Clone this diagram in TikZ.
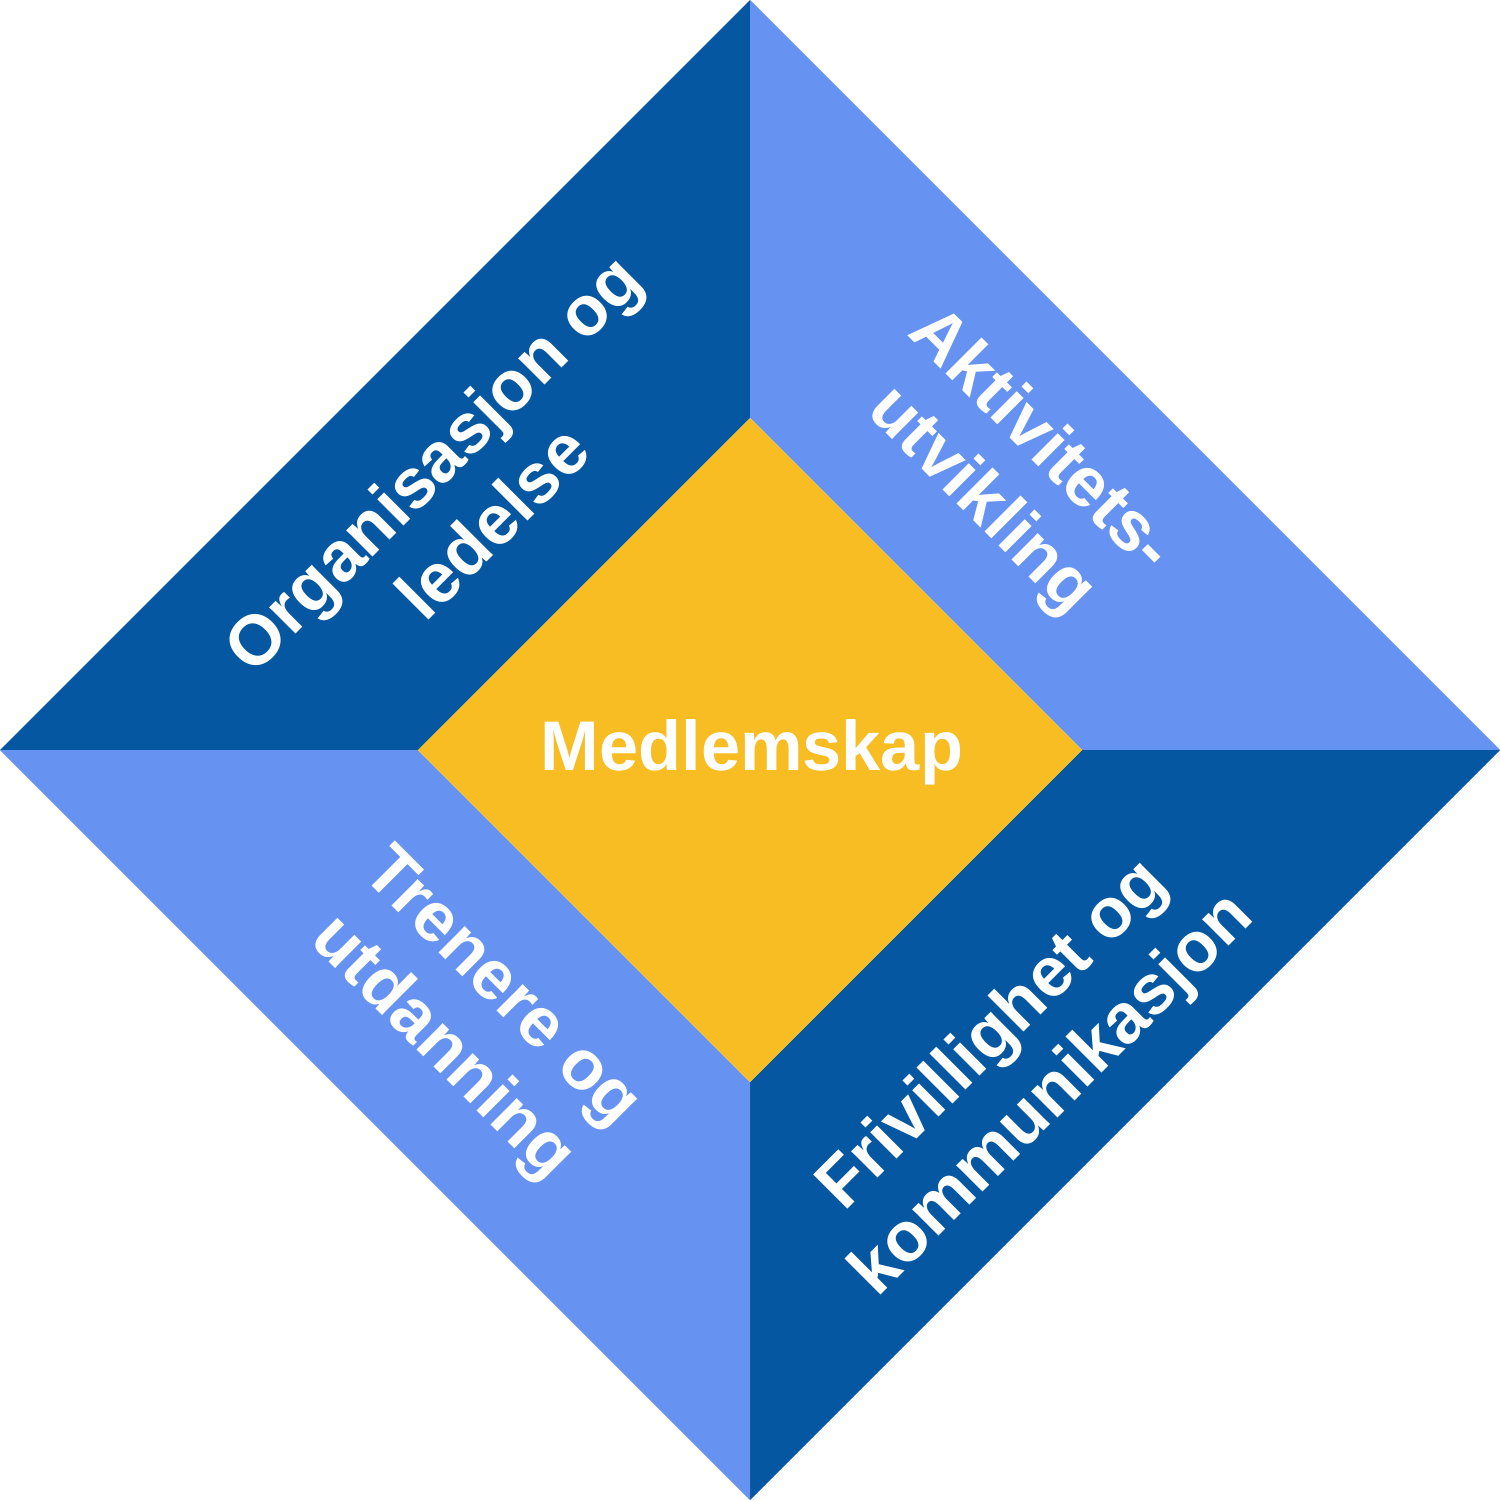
\documentclass[tikz,border=0pt]{standalone}
\usepackage{fontspec}
\setmainfont{Liberation Sans}
\definecolor{darkblue}{HTML}{0457A0}
\definecolor{lightblue}{HTML}{6693F2}
\definecolor{medyellow}{HTML}{F7BD22}
\begin{document}
\begin{tikzpicture}[x=0.01cm,y=-0.01cm,
    label/.style={text=white, font=\fontsize{20}{24}\selectfont\bfseries, align=center}]
\useasboundingbox (0,0) rectangle (1500,1500);
% outer and inner corners
\coordinate (T) at (750,0);
\coordinate (R) at (1500,750);
\coordinate (B) at (750,1500);
\coordinate (L) at (0,750);
\coordinate (t) at (750,418);
\coordinate (r) at (1082,750);
\coordinate (b) at (750,1082);
\coordinate (l) at (418,750);

\fill [darkblue] (L) -- (T) -- (t) -- (l) -- cycle;
\fill [lightblue] (T) -- (R) -- (r) -- (t) -- cycle;
\fill [darkblue] (R) -- (B) -- (b) -- (r) -- cycle;
\fill [lightblue] (B) -- (L) -- (l) -- (b) -- cycle;
\fill [medyellow] (t) -- (r) -- (b) -- (l) -- cycle;

\node [label] (center) at (752,752) {Medlemskap};
\node [label, rotate=45] (org) at (462,492) {Organisasjon og\\ledelse};
\node [label, rotate=-45] (akt) at (1010,472) {Aktivitets-\\utvikling};
\node [label, rotate=-45] (tren) at (470,1020) {Trenere og\\utdanning};
\node [label, rotate=45] (friv) at (1024,1066) {Frivillighet og\\kommunikasjon};
\end{tikzpicture}
\end{document}
